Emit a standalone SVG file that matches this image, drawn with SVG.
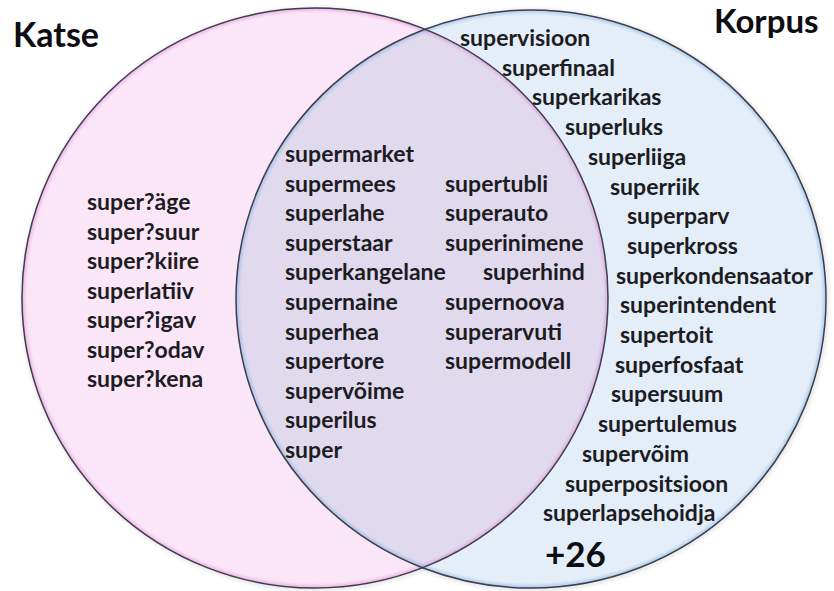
<svg xmlns="http://www.w3.org/2000/svg" width="834" height="591" viewBox="0 0 834 591">
<defs>
<style>
.w{font-family:Lato,"Open Sans","Liberation Sans",sans-serif;font-weight:700;font-size:23px;fill:#1c1c22}
.t{font-family:Lato,"Open Sans","Liberation Sans",sans-serif;font-weight:700;font-size:34px;fill:#0d0d12}
.edge{fill:none;stroke:#3e3e4c;stroke-width:1.5}
</style>
<radialGradient id="glowL" cx="0.5" cy="0.5" r="0.5">
<stop offset="0.982" stop-color="#e37ad8" stop-opacity="0"/>
<stop offset="1" stop-color="#d060c8" stop-opacity="0.4"/>
</radialGradient>
<radialGradient id="glowR" cx="0.5" cy="0.5" r="0.5">
<stop offset="0.982" stop-color="#6ea8e8" stop-opacity="0"/>
<stop offset="1" stop-color="#5b9be0" stop-opacity="0.45"/>
</radialGradient>
<clipPath id="clipL"><ellipse cx="315" cy="298" rx="293" ry="290"/></clipPath>
<filter id="sh" x="-10%" y="-10%" width="120%" height="120%"><feGaussianBlur stdDeviation="2"/></filter>
</defs>
<rect width="834" height="591" fill="#ffffff"/>
<g id="shadows" opacity="0.3" filter="url(#sh)">
<ellipse cx="316" cy="299" rx="293" ry="290" fill="none" stroke="#555" stroke-width="2"/>
<ellipse cx="532" cy="300" rx="295" ry="289" fill="none" stroke="#555" stroke-width="2"/>
</g>
<g id="circle-katse">
<ellipse cx="315" cy="298" rx="293" ry="290" fill="#fbe6f8"/>
</g>
<g id="circle-korpus">
<ellipse cx="531" cy="299" rx="295" ry="289" fill="#e4eef8"/>
</g>
<g id="overlap" clip-path="url(#clipL)">
<ellipse cx="531" cy="299" rx="295" ry="289" fill="#e1daee"/>
</g>
<g id="glows">
<ellipse cx="315" cy="298" rx="293" ry="290" fill="url(#glowL)"/>
<ellipse cx="531" cy="299" rx="295" ry="289" fill="url(#glowR)"/>
</g>
<g id="connectors">
<ellipse class="edge" cx="315" cy="298" rx="293" ry="290"/>
<ellipse class="edge" cx="531" cy="299" rx="295" ry="289"/>
</g>
<g id="title-katse"><text class="t" x="13" y="47">Katse</text></g>
<g id="title-korpus"><text class="t" x="714" y="33" style="font-size:33px">Korpus</text></g>
<g id="katse-only">
<text class="w" x="87" y="210">super?äge</text>
<text class="w" x="87" y="239.5">super?suur</text>
<text class="w" x="87" y="269">super?kiire</text>
<text class="w" x="87" y="298.5">superlatiiv</text>
<text class="w" x="87" y="328">super?igav</text>
<text class="w" x="87" y="357.5">super?odav</text>
<text class="w" x="87" y="387">super?kena</text>
</g>
<g id="both">
<text class="w" x="285" y="162">supermarket</text>
<text class="w" x="285" y="191.6">supermees</text>
<text class="w" x="285" y="221.2">superlahe</text>
<text class="w" x="285" y="250.8">superstaar</text>
<text class="w" x="285" y="280.4">superkangelane</text>
<text class="w" x="285" y="310">supernaine</text>
<text class="w" x="285" y="339.6">superhea</text>
<text class="w" x="285" y="369.2">supertore</text>
<text class="w" x="285" y="398.8">supervõime</text>
<text class="w" x="285" y="428.4">superilus</text>
<text class="w" x="285" y="458">super</text>
<text class="w" x="445" y="191.6">supertubli</text>
<text class="w" x="445" y="221.2">superauto</text>
<text class="w" x="445" y="250.8">superinimene</text>
<text class="w" x="483" y="280.4">superhind</text>
<text class="w" x="445" y="310">supernoova</text>
<text class="w" x="445" y="339.6">superarvuti</text>
<text class="w" x="445" y="369.2">supermodell</text>
</g>
<g id="korpus-only">
<text class="w" x="460" y="46">supervisioon</text>
<text class="w" x="502" y="75.7">superfinaal</text>
<text class="w" x="532" y="105.4">superkarikas</text>
<text class="w" x="565" y="135.1">superluks</text>
<text class="w" x="588" y="164.8">superliiga</text>
<text class="w" x="610" y="194.5">superriik</text>
<text class="w" x="627" y="224.2">superparv</text>
<text class="w" x="627" y="253.9">superkross</text>
<text class="w" x="616" y="283.6">superkondensaator</text>
<text class="w" x="620" y="313.3">superintendent</text>
<text class="w" x="620" y="343">supertoit</text>
<text class="w" x="615" y="372.7">superfosfaat</text>
<text class="w" x="611" y="402.4">supersuum</text>
<text class="w" x="598" y="432.1">supertulemus</text>
<text class="w" x="582" y="461.8">supervõim</text>
<text class="w" x="565" y="491.5">superpositsioon</text>
<text class="w" x="543" y="521.2">superlapsehoidja</text>
<text class="t" x="545" y="567" style="font-size:35px">+26</text>
</g>
</svg>
